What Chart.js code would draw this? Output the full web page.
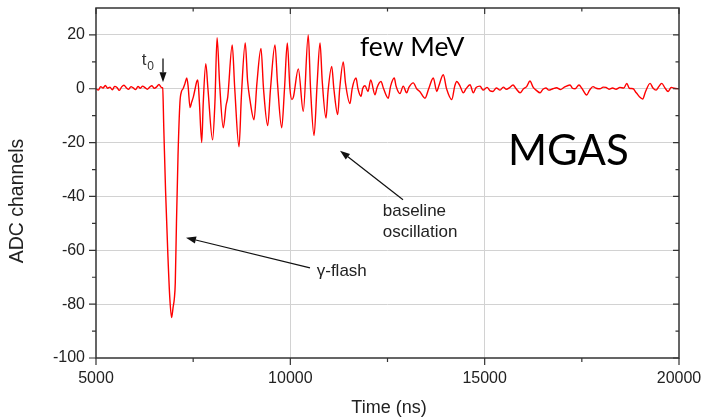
<!DOCTYPE html>
<html><head><meta charset="utf-8">
<script src="https://cdn.jsdelivr.net/npm/chart.js@4"></script>
<style>html,body{margin:0;padding:0;background:#fff}#wrap{width:703px;height:420px;position:relative}</style>
</head><body><div id="wrap"><canvas id="c" width="703" height="420"></canvas></div>
<script>
const times = [
  5000,5060,5120,5180,5240,5300,5360,5420,5480,5540,
  5600,5660,5720,5780,5840,5900,5960,6020,6080,6140,
  6200,6260,6320,6380,6440,6500,6560,6620,6680,6715,
  6745,6790,6850,6900,6945,6985,7015,7040,7070,7110,
  7160,7200,7240,7290,7335,7370,7420,7460,7505,7550,
  7590,7620,7660,7720,7760,7825,7880,8000,8060,8115,
  8180,8275,8345,8390,8505,8570,8680,8740,8840,8900,
  8960,9066,9140,9245,9310,9418,9490,9605,9670,9778,
  9850,9922,9990,10040,10080,10205,10333,10461,10520,10610,
  10690,10764,10820,10918,10970,11065,11120,11219,11270,11362,
  11420,11535,11590,11690,11740,11818,11860,11921,11998,12068,
  12178,12232,12332,12400,12520,12580,12675,12720,12820,12905,
  12993,13050,13164,13250,13330,13464,13560,13678,13768,13820,
  13935,14020,14153,14230,14282,14366,14450,14520,14623,14708,
  14780,14880,14960,15061,15140,15215,15300,15395,15480,15560,
  15640,15730,15800,15910,16000,16080,16165,16250,16330,16425,
  16500,16575,16650,16755,16850,16950,17050,17195,17260,17325,
  17427,17500,17625,17700,17787,17870,17966,18050,18120,18200,
  18290,18380,18480,18580,18657,18720,18820,18900,19066,19140,
  19256,19330,19410,19480,19555,19640,19720,19800,19880,20000
];
const values = [
  0,-0.5,0.8,0.3,1.2,0.2,0.6,-0.4,0.9,0.5,
  -0.6,0.7,1.3,0.4,-0.2,0.8,0.3,-0.3,0.9,0.2,
  1.0,0.4,-0.2,0.6,1.1,0.2,0.7,1.6,0.5,0.3,
  -15,-38,-62,-78,-85,-81,-78,-72,-50,-25,
  -5,-1,0,2,4,1,-7,-5,-3,0,
  2.6,3.3,-5,-20,-5,9.3,0,-19,-5,19,
  2,-14.5,-6.3,-3,16.3,0,-21.6,-3,17,3,
  -4,-11.5,2,15,0,-13.7,0,16.3,2,-14.5,
  0,17,0,-4,-3,7.4,-8.4,20,0,-17.4,
  2,17,3,-10.9,-1,8.3,0,-9.6,0,10,
  2,-5.5,0,4,0,-2.8,0,1.1,-1,3.3,
  -2.2,0.5,2.7,0,-3.5,1,4,1,-1.8,1,
  -1.5,0.5,2.2,0,-1,-3.5,0,4,-1,1,
  5.2,0,-4,1,2.7,1,-1.5,0,1.5,-1.5,
  0.5,1,-0.5,0.5,-0.8,-1,0.3,-0.5,0.6,-0.2,
  0.4,1.4,0.2,-1.5,0,0.8,2.9,0.5,-0.6,-1.5,
  -0.2,0.3,-0.5,0,0.4,-0.3,0.6,1.4,0.2,0,
  1.4,0.2,-2.3,-0.5,0.8,0.2,0,0.6,0.5,-0.2,
  0.3,-0.2,0.5,0.3,2,0.2,0,-1.5,-3.8,-1,
  2,0.3,-0.5,0.8,2,0.3,-1,0.5,0.2,0
];
const xTicks = [5000,10000,15000,20000];
const xMinorTicks = [7500,12500,17500];
const yTicks = [-100,-80,-60,-40,-20,0,20];
const yMinorTicks = [-90,-70,-50,-30,-10,10];
const xMin = 5000, xMax = 20000, yMin = -100, yMax = 30;
const xTitle = 'Time (ns)';
const yTitle = 'ADC channels';

const AX = '#333333';
const GRID = '#d2d2d2';
const SANS = '"Liberation Sans", Arial, sans-serif';

function arrow(ctx, x1, y1, x2, y2) {
  const a = Math.atan2(y2 - y1, x2 - x1), L = 10, W = 3.5;
  const bx = x2 - L * Math.cos(a), by = y2 - L * Math.sin(a);
  ctx.beginPath(); ctx.moveTo(x1, y1); ctx.lineTo(bx, by); ctx.stroke();
  ctx.beginPath(); ctx.moveTo(x2, y2);
  ctx.lineTo(bx + W * Math.sin(a), by - W * Math.cos(a));
  ctx.lineTo(bx - W * Math.sin(a), by + W * Math.cos(a));
  ctx.closePath(); ctx.fill();
}

const framePlugin = {
  id: 'frame',
  afterDraw(chart) {
    const ctx = chart.ctx, a = chart.chartArea, sx = chart.scales.x, sy = chart.scales.y;
    const X = v => sx.getPixelForValue(v), Y = v => sy.getPixelForValue(v);
    ctx.save();
    ctx.strokeStyle = AX; ctx.lineWidth = 1.5;
    ctx.strokeRect(a.left, a.top, a.right - a.left, a.bottom - a.top);
    ctx.lineWidth = 1.2;
    ctx.beginPath();
    xTicks.forEach(v => { const p = X(v);
      ctx.moveTo(p, a.bottom); ctx.lineTo(p, a.bottom + 7);
      ctx.moveTo(p, a.top); ctx.lineTo(p, a.top + 6); });
    xMinorTicks.forEach(v => { const p = X(v);
      ctx.moveTo(p, a.bottom); ctx.lineTo(p, a.bottom + 4);
      ctx.moveTo(p, a.top); ctx.lineTo(p, a.top + 3.5); });
    yTicks.forEach(v => { const p = Y(v);
      ctx.moveTo(a.left - 7, p); ctx.lineTo(a.left, p);
      ctx.moveTo(a.right, p); ctx.lineTo(a.right - 6, p); });
    yMinorTicks.forEach(v => { const p = Y(v);
      ctx.moveTo(a.left - 4, p); ctx.lineTo(a.left, p);
      ctx.moveTo(a.right, p); ctx.lineTo(a.right - 3.5, p); });
    ctx.stroke();

    // tick labels
    ctx.fillStyle = '#222';
    ctx.font = '16px ' + SANS;
    ctx.textAlign = 'center'; ctx.textBaseline = 'top';
    xTicks.forEach(v => ctx.fillText(String(v), X(v), a.bottom + 13));
    ctx.textAlign = 'right'; ctx.textBaseline = 'middle';
    yTicks.forEach(v => ctx.fillText(String(v), a.left - 11, Y(v)));

    // axis titles
    ctx.font = '18px ' + SANS;
    ctx.textAlign = 'center'; ctx.textBaseline = 'middle';
    ctx.fillText(xTitle, 389, 408);
    ctx.font = '19.5px ' + SANS;
    ctx.save(); ctx.translate(18, 201); ctx.rotate(-Math.PI / 2);
    ctx.fillText(yTitle, 0, 0); ctx.restore();

    // t0 label and arrow
    ctx.textAlign = 'left'; ctx.textBaseline = 'alphabetic';
    ctx.fillStyle = '#333';
    ctx.font = '17px ' + SANS;
    ctx.fillText('t', X(6176), Y(8.9));
    ctx.font = '12px ' + SANS;
    ctx.fillText('0', X(6176) + 5.5, Y(8.9) + 5);
    ctx.strokeStyle = '#111'; ctx.fillStyle = '#111'; ctx.lineWidth = 1.3;
    arrow(ctx, X(6724), Y(11.2), X(6724), Y(2.4));
    ctx.lineWidth = 1.2;
    arrow(ctx, X(12899), Y(-41.2), X(11278), Y(-23.0));
    arrow(ctx, X(10506), Y(-66.5), X(7316), Y(-55.3));

    ctx.fillStyle = '#222';
    ctx.font = '17px ' + SANS;
    ctx.textBaseline = 'middle';
    ctx.fillText('baseline', X(12377), Y(-45.6));
    ctx.fillText('oscillation', X(12377), Y(-53.5));
    ctx.fillText('\u03b3-flash', X(10679), Y(-67.8));

    ctx.fillStyle = '#000';
    ctx.textBaseline = 'alphabetic';
    ctx.font = '26.5px Lato, "Open Sans", sans-serif';
    ctx.fillText('few MeV', X(11793), Y(12));
    ctx.font = '42px Lato, "Open Sans", sans-serif';
    ctx.fillText('MGAS', X(15601), Y(-28.2));
    ctx.restore();
  }
};

new Chart(document.getElementById('c'), {
  type: 'line',
  data: {
    datasets: [{
      data: times.map((t, i) => ({ x: t, y: values[i] })),
      borderColor: '#ff0000',
      borderWidth: 1.4,
      pointRadius: 0,
      fill: false,
      cubicInterpolationMode: 'monotone'
    }]
  },
  options: {
    responsive: false,
    animation: false,
    events: [],
    layout: { padding: { top: 8, right: 24, left: 0, bottom: 0 } },
    plugins: { legend: { display: false }, tooltip: { enabled: false } },
    scales: {
      x: {
        type: 'linear', min: xMin, max: xMax,
        afterBuildTicks: s => { s.ticks = xTicks.map(v => ({ value: v })); },
        afterFit: s => { s.height = 62; s.paddingLeft = 0; s.paddingRight = 0; },
        ticks: { display: false },
        grid: { drawTicks: false, color: c => (c.tick && (c.tick.value === 10000 || c.tick.value === 15000)) ? GRID : 'rgba(0,0,0,0)', lineWidth: 1 },
        border: { display: false }
      },
      y: {
        type: 'linear', min: yMin, max: yMax,
        afterBuildTicks: s => { s.ticks = yTicks.map(v => ({ value: v })); },
        afterFit: s => { s.width = 96; s.paddingTop = 0; s.paddingBottom = 0; },
        ticks: { display: false },
        grid: { drawTicks: false, color: c => (c.tick && c.tick.value > -100) ? GRID : 'rgba(0,0,0,0)', lineWidth: 1 },
        border: { display: false }
      }
    }
  },
  plugins: [framePlugin]
});
</script>
</body></html>
